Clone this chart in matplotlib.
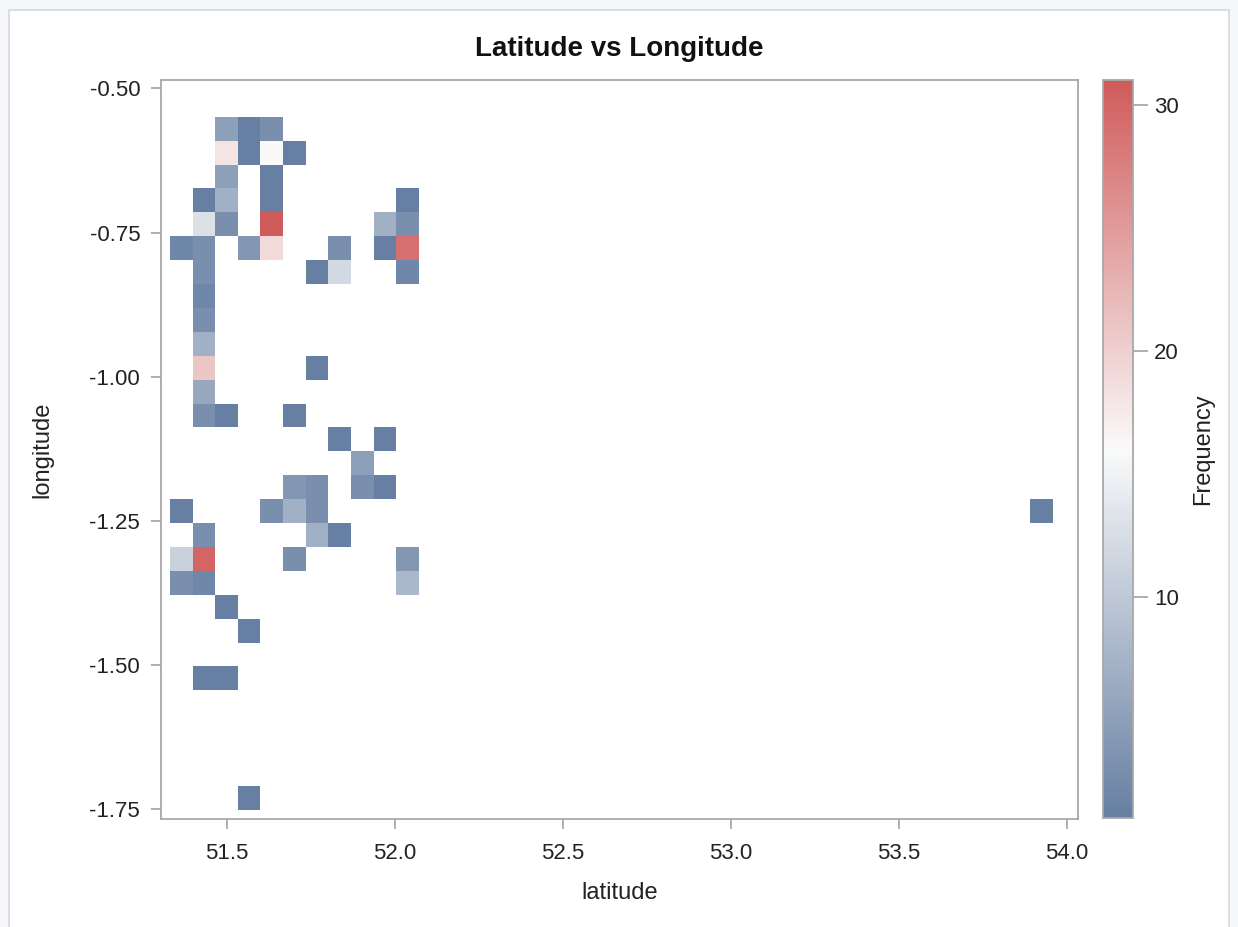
import numpy as np
import matplotlib
matplotlib.use('Agg')
import matplotlib.pyplot as plt
from matplotlib.colors import LinearSegmentedColormap
from matplotlib.patches import Rectangle

plt.rcParams['font.family'] = ['Liberation Sans', 'DejaVu Sans']

# cell centres (latitude, longitude) and their frequency, read row by row from the top
cell_lat = [51.500, 51.567, 51.634,
            51.500, 51.567, 51.634, 51.702,
            51.500, 51.634,
            51.432, 51.500, 51.634, 52.039,
            51.432, 51.500, 51.634, 51.971, 52.039,
            51.365, 51.432, 51.567, 51.634, 51.837, 51.971, 52.039,
            51.432, 51.769, 51.837, 52.039,
            51.432,
            51.432,
            51.432,
            51.432, 51.769,
            51.432,
            51.432, 51.500, 51.702,
            51.837, 51.971,
            51.904,
            51.702, 51.769, 51.904, 51.971,
            51.365, 51.634, 51.702, 51.769, 53.926,
            51.432, 51.769, 51.837,
            51.365, 51.432, 51.702, 52.039,
            51.365, 51.432, 52.039,
            51.500,
            51.567,
            51.432, 51.500,
            51.567]
cell_lon = [-0.570, -0.570, -0.570,
            -0.611, -0.611, -0.611, -0.611,
            -0.653, -0.653,
            -0.694, -0.694, -0.694, -0.694,
            -0.736, -0.736, -0.736, -0.736, -0.736,
            -0.777, -0.777, -0.777, -0.777, -0.777, -0.777, -0.777,
            -0.819, -0.819, -0.819, -0.819,
            -0.860,
            -0.901,
            -0.943,
            -0.984, -0.984,
            -1.026,
            -1.067, -1.067, -1.067,
            -1.109, -1.109,
            -1.150,
            -1.192, -1.192, -1.192, -1.192,
            -1.233, -1.233, -1.233, -1.233, -1.233,
            -1.274, -1.274, -1.274,
            -1.316, -1.316, -1.316, -1.316,
            -1.357, -1.357, -1.357,
            -1.399,
            -1.440,
            -1.523, -1.523,
            -1.730]
cell_freq = [5, 1, 3,
             18, 1, 16, 1,
             5, 1,
             1, 7, 1, 1,
             13, 3, 31, 7, 3,
             2, 3, 4, 19, 3, 1, 29,
             3, 1, 12, 2,
             2,
             3,
             7,
             21, 1,
             6,
             3, 1, 1,
             1, 1,
             5,
             4, 3, 3, 1,
             1, 3, 7, 3, 1,
             3, 7, 1,
             11, 30, 3, 4,
             3, 2, 8,
             1,
             1,
             1, 1,
             1]

lat_edges = 51.331 + 0.0674 * np.arange(40)
lon_edges = -1.7510 + 0.04144 * np.arange(30)

grid, xe, ye = np.histogram2d(cell_lat, cell_lon, bins=[lat_edges, lon_edges], weights=cell_freq)
grid = np.ma.masked_equal(grid, 0)

cmap = LinearSegmentedColormap.from_list('sas_ramp', ['#667FA2', '#FAFAFA', '#D05B5B'])

W, H = 1238, 927
fig = plt.figure(figsize=(W / 100, H / 100), dpi=100)
fig.patch.set_facecolor('#F6F7FA')
fig.patches.append(Rectangle((9 / W, -0.02), 1220 / W, (H - 10) / H + 0.02,
                             transform=fig.transFigure, facecolor='white',
                             edgecolor='#D4D8DE', linewidth=1.2, zorder=-1))

ax = fig.add_axes([161 / W, 1 - 819 / H, 917 / W, 739 / H])
mesh = ax.pcolormesh(xe, ye, grid.T, cmap=cmap, vmin=1, vmax=31)
ax.set_xlim(51.3045, 54.034)
ax.set_ylim(-1.7668, -0.4856)
ax.set_xticks([51.5, 52.0, 52.5, 53.0, 53.5, 54.0])
ax.set_xticklabels(['51.5', '52.0', '52.5', '53.0', '53.5', '54.0'])
ax.set_yticks([-0.5, -0.75, -1.0, -1.25, -1.5, -1.75])
ax.set_yticklabels(['-0.50', '-0.75', '-1.00', '-1.25', '-1.50', '-1.75'])
for s in ax.spines.values():
    s.set_color('#A8A8A8')
    s.set_linewidth(1.3)
ax.tick_params(direction='out', length=7, width=1.3, color='#A8A8A8',
               labelsize=16, labelcolor='#222222')
ax.tick_params(axis='x', pad=10)
ax.tick_params(axis='y', pad=8)

ax.set_xlabel('latitude', fontsize=17, color='#222222', va='center')
ax.xaxis.set_label_coords(0.5, (819 - 893) / 739)
ax.set_ylabel('longitude', fontsize=17, color='#222222', va='center')
ax.yaxis.set_label_coords((42 - 161) / 917, 0.5)

fig.text(619 / W, 1 - 49 / H, 'Latitude vs Longitude', fontsize=20,
         fontweight='bold', ha='center', va='center', color='#111111')

cax = fig.add_axes([1103 / W, 1 - 818 / H, 30 / W, 738 / H])
cb = fig.colorbar(mesh, cax=cax, ticks=[10, 20, 30])
cb.outline.set_edgecolor('#A8A8A8')
cb.outline.set_linewidth(1.3)
cax.tick_params(direction='out', length=11, width=1.3, color='#A8A8A8',
                labelsize=16, labelcolor='#222222', pad=4)
cax.set_ylabel('Frequency', fontsize=17, color='#222222', va='center')
cax.yaxis.set_label_coords((1203 - 1103) / 30, 0.5)

fig.savefig('out.png', dpi=100, facecolor=fig.get_facecolor())
plt.close(fig)
